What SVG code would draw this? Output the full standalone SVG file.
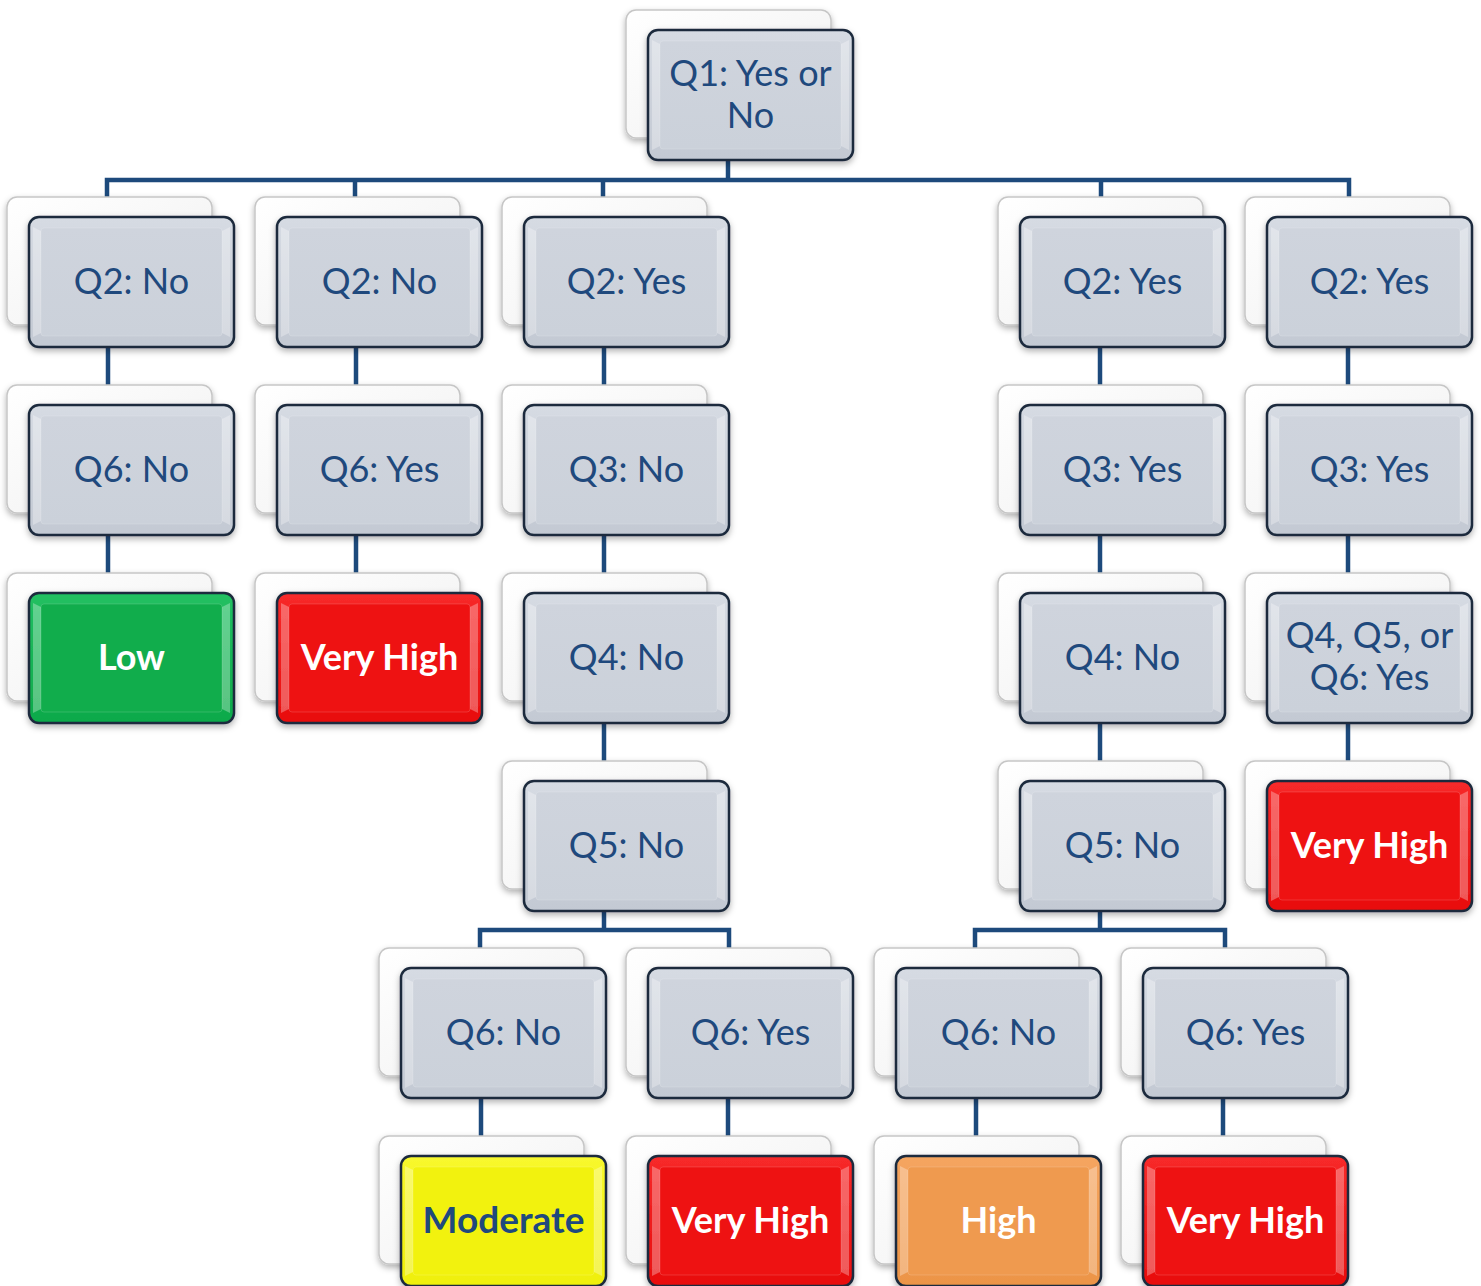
<svg xmlns="http://www.w3.org/2000/svg" width="1481" height="1286" viewBox="0 0 1481 1286">
<defs>
<linearGradient id="gBack" x1="0" y1="0" x2="1" y2="1"><stop offset="0" stop-color="#ffffff"/><stop offset="0.7" stop-color="#f4f4f4"/><stop offset="1" stop-color="#d9d9d9"/></linearGradient>
<linearGradient id="gGray" x1="0" y1="0" x2="0" y2="1"><stop offset="0" stop-color="#d6dbe3"/><stop offset="1" stop-color="#c3c9d3"/></linearGradient>
<linearGradient id="gGrayIn" x1="0" y1="0" x2="0" y2="1"><stop offset="0" stop-color="#cfd4dd"/><stop offset="1" stop-color="#cbd1da"/></linearGradient>
<linearGradient id="gGreen" x1="0" y1="0" x2="0" y2="1"><stop offset="0" stop-color="#22c062"/><stop offset="1" stop-color="#0ea94a"/></linearGradient>
<linearGradient id="gRed" x1="0" y1="0" x2="0" y2="1"><stop offset="0" stop-color="#f72a2a"/><stop offset="1" stop-color="#e80e0e"/></linearGradient>
<linearGradient id="gYellow" x1="0" y1="0" x2="0" y2="1"><stop offset="0" stop-color="#f8f82e"/><stop offset="1" stop-color="#efef0a"/></linearGradient>
<linearGradient id="gOrange" x1="0" y1="0" x2="0" y2="1"><stop offset="0" stop-color="#f5a560"/><stop offset="1" stop-color="#ec9446"/></linearGradient>
<filter id="sh" x="-10%" y="-10%" width="120%" height="130%"><feDropShadow dx="0" dy="3" stdDeviation="3" flood-color="#000" flood-opacity="0.3"/></filter>
<g id="box">
<rect class="back" x="-22" y="-20" width="205" height="128" rx="10"/>
<rect class="front" x="0" y="0" width="205" height="130" rx="10"/>
<rect class="inner" x="12" y="11" width="181" height="108" rx="3"/>
<path class="edge" d="M4 10 L12 14 L12 116 L4 120 Z"/>
<path class="edge" d="M201 10 L193 14 L193 116 L201 120 Z"/>
</g>
</defs>
<style>
.back{fill:url(#gBack);stroke:#c6c6c6;stroke-width:1.5;filter:url(#sh)}
.front{fill:var(--face);stroke:#1b2a3c;stroke-width:2.5;filter:url(#sh)}
.inner{fill:var(--in);stroke:#ffffff;stroke-opacity:0.15;stroke-width:1}
.edge{fill:#ffffff;opacity:0.3}
.gray{--face:url(#gGray);--in:url(#gGrayIn)}
.green{--face:url(#gGreen);--in:#11ad4c}
.red{--face:url(#gRed);--in:#ee1212}
.yellow{--face:url(#gYellow);--in:#f2f20e}
.orange{--face:url(#gOrange);--in:#ef9a4f}
text{font-family:Lato,"Liberation Sans",sans-serif;text-anchor:middle}
.t{font-size:36px;fill:#1f497d}
.tb{font-size:36px;font-weight:bold;fill:#ffffff}
.tm{font-size:37px;font-weight:bold;fill:#1f497d}
.conn line,.conn path{stroke:#1d4a7c;stroke-width:4.5;fill:none}
</style>

<g class="conn" id="connectors">
<line x1="728" y1="160" x2="728" y2="182"/>
<path d="M107 217 V180 H1349 V217"/>
<line x1="355" y1="180" x2="355" y2="217"/>
<line x1="603" y1="180" x2="603" y2="217"/>
<line x1="1101" y1="180" x2="1101" y2="217"/>
<line x1="108" y1="347" x2="108" y2="405"/>
<line x1="108" y1="535" x2="108" y2="593"/>
<line x1="356" y1="347" x2="356" y2="405"/>
<line x1="356" y1="535" x2="356" y2="593"/>
<line x1="604" y1="347" x2="604" y2="405"/>
<line x1="604" y1="535" x2="604" y2="593"/>
<line x1="604" y1="723" x2="604" y2="781"/>
<line x1="604" y1="911" x2="604" y2="930"/>
<path d="M480 968 V930 H729 V968"/>
<line x1="1100" y1="347" x2="1100" y2="405"/>
<line x1="1100" y1="535" x2="1100" y2="593"/>
<line x1="1100" y1="723" x2="1100" y2="781"/>
<line x1="1100" y1="911" x2="1100" y2="930"/>
<path d="M975 968 V930 H1225 V968"/>
<line x1="1348" y1="347" x2="1348" y2="405"/>
<line x1="1348" y1="535" x2="1348" y2="593"/>
<line x1="1348" y1="723" x2="1348" y2="781"/>
<line x1="481" y1="1098" x2="481" y2="1156"/>
<line x1="728" y1="1098" x2="728" y2="1156"/>
<line x1="976" y1="1098" x2="976" y2="1156"/>
<line x1="1223" y1="1098" x2="1223" y2="1156"/>
</g>

<g id="q1" class="gray" transform="translate(648,30)"><use href="#box"/><text class="t" x="102.5" y="56">Q1: Yes or</text><text class="t" x="102.5" y="98">No</text></g>

<g id="r2a" class="gray" transform="translate(29,217)"><use href="#box"/><text class="t" x="102.5" y="77">Q2: No</text></g>
<g id="r2b" class="gray" transform="translate(277,217)"><use href="#box"/><text class="t" x="102.5" y="77">Q2: No</text></g>
<g id="r2c" class="gray" transform="translate(524,217)"><use href="#box"/><text class="t" x="102.5" y="77">Q2: Yes</text></g>
<g id="r2d" class="gray" transform="translate(1020,217)"><use href="#box"/><text class="t" x="102.5" y="77">Q2: Yes</text></g>
<g id="r2e" class="gray" transform="translate(1267,217)"><use href="#box"/><text class="t" x="102.5" y="77">Q2: Yes</text></g>

<g id="r3a" class="gray" transform="translate(29,405)"><use href="#box"/><text class="t" x="102.5" y="77">Q6: No</text></g>
<g id="r3b" class="gray" transform="translate(277,405)"><use href="#box"/><text class="t" x="102.5" y="77">Q6: Yes</text></g>
<g id="r3c" class="gray" transform="translate(524,405)"><use href="#box"/><text class="t" x="102.5" y="77">Q3: No</text></g>
<g id="r3d" class="gray" transform="translate(1020,405)"><use href="#box"/><text class="t" x="102.5" y="77">Q3: Yes</text></g>
<g id="r3e" class="gray" transform="translate(1267,405)"><use href="#box"/><text class="t" x="102.5" y="77">Q3: Yes</text></g>

<g id="r4a" class="green" transform="translate(29,593)"><use href="#box"/><text class="tb" x="102.5" y="77">Low</text></g>
<g id="r4b" class="red" transform="translate(277,593)"><use href="#box"/><text class="tb" x="102.5" y="77">Very High</text></g>
<g id="r4c" class="gray" transform="translate(524,593)"><use href="#box"/><text class="t" x="102.5" y="77">Q4: No</text></g>
<g id="r4d" class="gray" transform="translate(1020,593)"><use href="#box"/><text class="t" x="102.5" y="77">Q4: No</text></g>
<g id="r4e" class="gray" transform="translate(1267,593)"><use href="#box"/><text class="t" x="102.5" y="55">Q4, Q5, or</text><text class="t" x="102.5" y="97">Q6: Yes</text></g>

<g id="r5c" class="gray" transform="translate(524,781)"><use href="#box"/><text class="t" x="102.5" y="77">Q5: No</text></g>
<g id="r5d" class="gray" transform="translate(1020,781)"><use href="#box"/><text class="t" x="102.5" y="77">Q5: No</text></g>
<g id="r5e" class="red" transform="translate(1267,781)"><use href="#box"/><text class="tb" x="102.5" y="77">Very High</text></g>

<g id="r6a" class="gray" transform="translate(401,968)"><use href="#box"/><text class="t" x="102.5" y="77">Q6: No</text></g>
<g id="r6b" class="gray" transform="translate(648,968)"><use href="#box"/><text class="t" x="102.5" y="77">Q6: Yes</text></g>
<g id="r6c" class="gray" transform="translate(896,968)"><use href="#box"/><text class="t" x="102.5" y="77">Q6: No</text></g>
<g id="r6d" class="gray" transform="translate(1143,968)"><use href="#box"/><text class="t" x="102.5" y="77">Q6: Yes</text></g>

<g id="r7a" class="yellow" transform="translate(401,1156)"><use href="#box"/><text class="tm" x="102.5" y="77">Moderate</text></g>
<g id="r7b" class="red" transform="translate(648,1156)"><use href="#box"/><text class="tb" x="102.5" y="77">Very High</text></g>
<g id="r7c" class="orange" transform="translate(896,1156)"><use href="#box"/><text class="tb" x="102.5" y="77">High</text></g>
<g id="r7d" class="red" transform="translate(1143,1156)"><use href="#box"/><text class="tb" x="102.5" y="77">Very High</text></g>
</svg>
